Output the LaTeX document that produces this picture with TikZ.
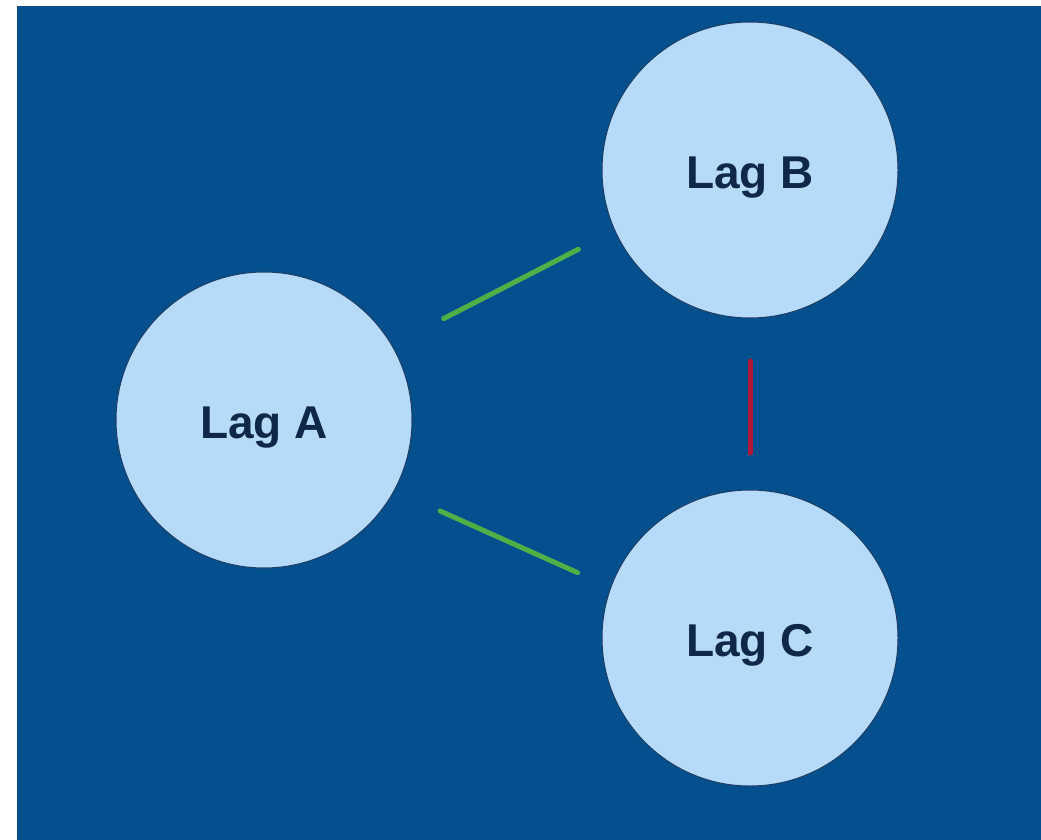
\documentclass[tikz,border=0pt]{standalone}
\usepackage{fontspec}
\setmainfont{Liberation Sans}
\usepackage{tikz}
\usetikzlibrary{positioning}
\definecolor{lagbg}{RGB}{4,80,143}
\definecolor{lagfill}{RGB}{181,218,250}
\definecolor{lagedge}{RGB}{30,62,100}
\definecolor{lagtext}{RGB}{16,40,72}
\definecolor{laggreen}{RGB}{80,176,72}
\definecolor{lagred}{RGB}{178,24,58}
\tikzstyle{lag} = [circle, draw=lagedge, line width=1pt, fill=lagfill, minimum size=296pt, inner sep=0pt, text height=46pt, text depth=10pt, font=\fontsize{46}{50}\selectfont\bfseries, text=lagtext]
\tikzstyle{link} = [line width=5pt, line cap=round]

\begin{document}
\begin{tikzpicture}[x=1pt, y=-1pt]
    % page and background
    \useasboundingbox (0,0) rectangle (1041,840);
    \fill[white] (0,0) rectangle (1041,840);
    \fill[lagbg] (17,6) rectangle (1041,840);

    % Lags
    \node[lag] (lagA) at (264,420) {Lag A};
    \node[lag] (lagB) at (750,170) {Lag B};
    \node[lag] (lagC) at (750,638) {Lag C};

    % Links
    \draw[link, laggreen, shorten <=202pt, shorten >=193pt] ([yshift=9pt]lagA.center) -- ([yshift=9pt]lagB.center);
    \draw[link, laggreen, shorten <=193pt, shorten >=189pt] ([yshift=-12pt]lagA.center) -- ([yshift=-12pt]lagC.center);
    \draw[link, lagred, shorten <=191pt, shorten >=185pt] (lagB.center) -- (lagC.center);
\end{tikzpicture}
\end{document}
